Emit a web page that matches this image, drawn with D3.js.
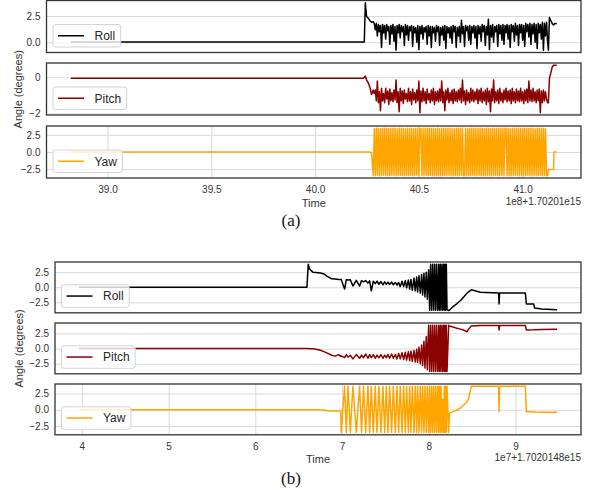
<!DOCTYPE html>
<html>
<head>
<meta charset="utf-8">
<script src="https://cdn.jsdelivr.net/npm/d3@7"></script>
<style>
  body { margin: 0; background: #fff; }
</style>
</head>
<body>
<svg id="chart" width="596" height="491"></svg>
<script>
// ---- figure (a): time in units of 1e8 (+1.70201e15) ----
var timeA = [38.823, 40.232, 40.237, 40.242, 40.248, 40.256, 40.264, 40.272, 40.280, 40.285,
  40.290, 40.295, 40.300, 40.305, 40.310, 40.315, 40.320, 40.325, 40.330, 40.335,
  40.340, 40.345, 40.350, 40.355, 40.360, 40.365, 40.370, 40.375, 40.380, 40.385,
  40.390, 40.395, 40.400, 40.405, 40.410, 40.415, 40.420, 40.425, 40.430, 40.435,
  40.440, 40.445, 40.450, 40.455, 40.460, 40.465, 40.470, 40.475, 40.480, 40.485,
  40.490, 40.495, 40.500, 40.505, 40.510, 40.515, 40.520, 40.525, 40.530, 40.535,
  40.540, 40.545, 40.550, 40.555, 40.560, 40.565, 40.570, 40.575, 40.580, 40.585,
  40.590, 40.595, 40.600, 40.605, 40.610, 40.615, 40.620, 40.625, 40.630, 40.635,
  40.640, 40.645, 40.650, 40.655, 40.660, 40.665, 40.670, 40.675, 40.680, 40.685,
  40.690, 40.695, 40.700, 40.705, 40.710, 40.715, 40.720, 40.725, 40.730, 40.735,
  40.740, 40.745, 40.750, 40.755, 40.760, 40.765, 40.770, 40.775, 40.780, 40.785,
  40.790, 40.795, 40.800, 40.805, 40.810, 40.815, 40.820, 40.825, 40.830, 40.835,
  40.840, 40.845, 40.850, 40.855, 40.860, 40.865, 40.870, 40.875, 40.880, 40.885,
  40.890, 40.895, 40.900, 40.905, 40.910, 40.915, 40.920, 40.925, 40.930, 40.935,
  40.940, 40.945, 40.950, 40.955, 40.960, 40.965, 40.970, 40.975, 40.980, 40.985,
  40.990, 40.995, 41.000, 41.005, 41.010, 41.015, 41.020, 41.025, 41.030, 41.035,
  41.040, 41.045, 41.050, 41.055, 41.060, 41.065, 41.070, 41.075, 41.080, 41.085,
  41.090, 41.095, 41.100, 41.105, 41.110, 41.115, 41.120,
  41.124, 41.129, 41.135, 41.143, 41.149, 41.151, 41.157, 41.164];

var rollA = [0.03, 0.03, 0.03, 3.75, 2.45, 2.3, 2.05, 1.9, 1.95, 1.8,
  1.2, 1.8, 0.6, 1.7, 1.0, 1.6, -0.5, 1.7, 0.9, 1.6,
  0.3, 1.7, 1.1, 1.5, -0.2, 1.6, 0.8, 1.7, 0.1, 1.5,
  -0.75, 1.6, 0.9, 1.7, 0.4, 1.6, 1.0, 1.5, -0.3, 1.7,
  0.7, 1.6, 0.2, 1.5, 1.1, 1.6, -0.4, 1.5, 0.9, 1.4,
  0.0, 1.6, -0.7, 1.5, 0.8, 1.6, 0.3, 1.4, 1.0, 1.5,
  -0.2, 1.6, 0.6, 1.5, -0.5, 1.5, 0.9, 1.4, 0.1, 1.6,
  1.0, 1.5, -0.3, 1.4, 0.7, 1.5, 0.2, 1.6, -0.6, 1.5,
  0.9, 1.4, 0.4, 1.5, -0.1, 1.6, 1.0, 1.5, -0.5, 1.4,
  0.6, 1.5, 0.0, 2.1, 0.8, 1.5, -0.4, 1.6, 1.1, 1.5,
  0.2, 1.6, -0.2, 1.5, 0.9, 1.6, 0.4, 1.5, -0.6, 1.6,
  0.8, 1.5, 0.1, 1.7, 1.0, 1.6, -0.3, 1.5, 0.7, 2.2,
  -0.7, 1.6, 0.5, 1.7, 0.0, 1.5, 1.0, 1.6, -0.4, 1.7,
  0.8, 1.6, 0.2, 1.7, -0.2, 1.6, 0.9, 1.7, 0.3, 1.6,
  -0.5, 1.7, 1.0, 1.6, 0.1, 1.8, 0.7, 1.6, -0.3, 1.7,
  0.9, 1.7, 0.2, 1.6, -0.4, 1.8, 1.0, 1.7, 0.5, 1.8,
  -0.2, 1.7, 0.8, 1.8, 0.0, 1.7, -0.6, 1.8, 0.9, 1.7,
  0.3, 1.9, -0.75, 1.8, 0.6, 1.9, 0.1,
  -0.75, 2.35, 2.1, 1.75, 1.65, 1.7, 1.8, 1.75];

var pitchA = [-0.05, -0.05, 0.0, 0.07, -0.15, -0.3, -0.55, -0.95, -0.7, -0.9,
  -0.7, -1.3, -0.2, -1.4, -0.8, -1.85, -0.6, -1.3, -0.9, -1.4,
  -0.6, -1.2, -0.75, -1.5, -0.65, -1.3, -0.85, -1.35, -0.7, -1.25,
  -0.15, -1.4, -0.8, -1.9, -0.6, -1.3, -0.75, -1.45, -0.7, -1.2,
  -0.9, -1.35, -0.6, -1.3, -0.8, -1.5, -0.65, -1.25, -0.85, -1.4,
  -0.7, -1.3, -0.2, -1.95, -0.75, -1.35, -0.6, -1.3, -0.8, -1.45,
  -0.65, -1.25, -0.9, -1.4, -0.7, -1.3, -0.6, -1.5, -0.8, -1.3,
  -0.75, -1.35, -0.65, -1.3, -0.2, -1.4, -0.8, -1.85, -0.7, -1.25,
  -0.6, -1.4, -0.85, -1.3, -0.7, -1.45, -0.65, -1.3, -0.8, -1.35,
  -0.7, -1.25, -0.6, -1.4, -0.15, -1.3, -0.75, -1.5, -0.7, -1.3,
  -0.85, -1.4, -0.6, -1.3, -0.7, -1.35, -0.8, -1.25, -0.65, -1.45,
  -0.7, -1.3, -0.6, -1.4, -0.8, -1.3, -0.7, -1.5, -0.6, -1.35,
  -0.75, -1.9, -0.65, -1.3, -0.15, -1.4, -0.8, -1.3, -0.7, -1.45,
  -0.6, -1.3, -0.85, -1.4, -0.7, -1.25, -0.6, -1.35, -0.75, -1.3,
  -0.7, -1.45, -0.6, -1.3, -0.8, -1.4, -0.65, -1.3, -0.75, -1.35,
  -0.6, -1.3, -0.8, -1.45, -0.7, -1.3, -0.65, -1.4, -0.2, -1.3,
  -0.7, -1.35, -0.6, -1.3, -0.8, -1.4, -0.7, -1.3, -0.65, -1.95,
  -0.75, -1.4, -0.7, -1.3, -0.8, -1.2, -1.4,
  -1.4, -0.06, 0.22, 0.59, 0.66, 0.66, 0.66, 0.66];

var yawA = [0, 0, 0, 0, 0, 0, 0, -0.15, -3.45, 3.4,
  -3.45, 3.45, -3.4, 3.45, -3.45, 3.4, -3.45, 3.45, -3.4, 3.45,
  -3.45, 3.45, -3.45, 3.4, -3.45, 3.45, -3.4, 3.45, -3.45, 3.45,
  -3.45, 3.4, -3.45, 3.45, -3.4, 3.45, -3.45, 3.45, -3.45, 3.4,
  -3.45, 3.45, -3.45, 3.45, -3.4, 3.45, -3.45, 3.4, -3.45, 3.45,
  -3.4, 3.45, -3.45, 3.45, 3.4, -3.45, 3.45, -3.45, 3.45, -3.4,
  3.45, -3.45, 3.45, -3.4, 3.45, -3.45, 3.45, -3.45, 3.4, -3.45,
  3.45, -3.45, 3.4, -3.45, 3.45, -3.45, 3.45, -3.4, 3.45, -3.45,
  3.45, -3.4, 3.45, -3.45, 3.45, -3.45, 3.4, -3.45, 3.45, -3.45,
  3.45, -3.45, 3.45, -3.4, 3.45, -3.45, -3.45, 3.45, -3.45, 3.4,
  -3.45, 3.45, -3.45, 3.45, -3.4, 3.45, -3.45, 3.45, -3.45, 3.45,
  -3.4, 3.45, -3.45, 3.45, -3.45, 3.4, -3.45, 3.45, -3.45, 3.45,
  -3.45, 3.4, -3.45, 3.45, -3.45, 3.45, -3.4, 3.45, -3.45, 3.45,
  -3.45, 3.45, -3.4, 3.45, -3.45, 3.45, 3.45, -3.45, 3.45, -3.45,
  3.4, -3.45, 3.45, -3.45, 3.45, -3.4, 3.45, -3.45, 3.45, -3.45,
  3.45, -3.45, 3.4, -3.45, 3.45, -3.45, 3.45, -3.4, 3.45, -3.45,
  3.45, -3.45, 3.45, -3.45, 3.4, -3.45, 3.45, -3.45, 3.45, -3.4,
  3.45, -3.45, 3.45, -3.45, 3.4, -3.45, -3.45,
  -2.55, -2.55, -2.55, -2.55, -2.55, 0, 0, 0];

// ---- figure (b): time in units of 1e7 (+1.7020148e15) ----
var timeB = [3.966, 6.595, 6.610, 6.625, 6.664, 6.700, 6.750, 6.790, 6.830, 6.880, 6.920, 6.960, 6.985,
  6.990, 7.029, 7.049, 7.068, 7.095, 7.125, 7.164, 7.202, 7.225, 7.248,
  7.272, 7.298, 7.318, 7.337, 7.360, 7.383, 7.402, 7.425, 7.448, 7.471,
  7.491, 7.510, 7.529, 7.548, 7.571, 7.591, 7.614, 7.633, 7.652, 7.671,
  7.691, 7.710, 7.729, 7.744, 7.764, 7.779, 7.794, 7.810, 7.829, 7.844,
  7.860, 7.871, 7.887, 7.902, 7.917, 7.929, 7.944, 7.956, 7.971, 7.983,
  7.998, 8.010, 8.021, 8.033, 8.044, 8.056, 8.067, 8.079, 8.090, 8.102,
  8.114, 8.121, 8.133, 8.140, 8.152, 8.160, 8.171, 8.179, 8.187, 8.194,
  8.202, 8.210, 8.229,
  8.237, 8.280, 8.325, 8.366, 8.402, 8.440, 8.459, 8.490, 8.594, 8.805,
  8.810, 8.816, 9.113, 9.125, 9.209, 9.220, 9.300, 9.479];

var rollB = [0.02, 0.02, 3.8, 3.0, 2.5, 2.45, 2.35, 2.2, 1.8, 1.4, 1.35, 1.3, 1.3,
  1.3, -0.3, 1.25, 1.2, 1.25, 0.2, 1.15, 0.2, 1.1, 0.9,
  1.1, 0.7, 1.05, -0.6, 1.0, 0.6, 1.0, 0.5, 0.95, 0.4,
  0.9, 0.5, 0.85, 0.45, 0.85, 0.4, 0.8, 0.35, 0.8, 0.1,
  1.0, 0.1, 1.1, -0.1, 1.2, -0.3, 1.3, -0.5, 1.5, -0.6,
  1.7, -0.8, 1.9, -1.0, 2.1, -1.3, 2.3, -1.6, 2.5, -2.0,
  2.9, -3.8, 3.8, -3.8, 3.8, -3.8, 3.8, -3.8, 3.8, -3.8,
  3.8, -3.8, 3.8, -3.8, 3.8, -3.8, 3.8, -3.8, 3.8, -3.8,
  3.8, -3.7, -3.85,
  -3.8, -3.2, -2.7, -2.2, -1.6, -1.0, -0.75, -0.43, -0.83, -0.94,
  -2.77, -0.94, -0.94, -2.77, -2.77, -3.44, -3.6, -3.72];

var pitchB = [0.0, 0.0, 0.0, -0.02, -0.05, -0.1, -0.28, -0.5, -0.75, -1.1, -1.25, -1.0, -1.3,
  -1.2, -1.5, -1.0, -1.4, -1.1, -1.7, -1.0, -1.6, -1.1, -1.5,
  -0.9, -1.6, -1.0, -1.5, -1.0, -1.6, -1.1, -1.5, -1.0, -1.6,
  -1.1, -1.5, -1.0, -1.6, -0.9, -1.6, -1.0, -1.7, -0.8, -1.7,
  -0.7, -1.8, -0.6, -1.9, -0.5, -2.0, -0.4, -2.1, -0.3, -2.2,
  -0.1, -2.3, 0.2, -2.5, 0.6, -2.8, 1.2, -3.2, 2.0, -3.5,
  3.83, -3.78, 3.83, -3.78, 3.83, -3.78, 3.83, -3.78, 3.83, -3.78,
  3.83, -3.78, 3.83, -3.78, 3.83, -3.78, 3.83, -3.78, 3.83, -3.78,
  3.83, -3.78, 3.83,
  3.72, 3.55, 3.33, 3.2, 3.05, 2.77, 3.2, 3.7, 3.8, 3.8,
  3.05, 3.8, 3.8, 3.05, 3.08, 3.1, 3.13, 3.17];

var yawB = [0, 0, 0, 0, 0, 0, 0, -0.05, -0.15, -0.2, -0.2, -0.2, -0.2,
  -3.5, 3.6, -3.5, 3.6, -3.5, 3.6, -3.5, 3.6, -3.5, 3.6,
  -3.5, 3.6, -3.5, 3.6, -3.5, 3.6, -3.5, 3.6, -3.5, 3.6,
  -3.5, 3.6, -3.5, 3.6, -3.5, 3.6, -3.5, 3.6, -3.5, 3.6,
  -3.5, 3.6, -3.5, 3.6, -3.5, 3.6, -3.5, 3.6, -3.5, 3.6,
  -3.5, 3.6, -3.5, 3.6, -3.5, 3.6, -3.5, 3.6, -3.5, 3.6,
  -3.5, 3.6, -3.5, 3.6, -3.5, 3.6, -3.5, 3.6, -3.5, 3.6,
  -3.5, 3.6, -3.5, 3.6, -3.5, 1.6, -3.5, 3.6, -3.5, 3.6,
  -3.5, 3.6, -3.5,
  -0.55, -0.3, -0.05, 0.3, 0.72, 1.2, 1.74, 3.6, 3.6, 3.6,
  -0.3, 3.6, 3.6, -0.3, -0.3, -0.35, -0.38, -0.4];

var seriesNames = ["Roll", "Pitch", "Yaw"];
var seriesColors = ["#000000", "#8b0000", "#ffa500"];
var xTicksA = [39.0, 39.5, 40.0, 40.5, 41.0];
var xTicksB = [4, 5, 6, 7, 8, 9];
var yTicksA = [[0, 2.5], [-2, 0], [-2.5, 0, 2.5]];
var yTicksB = [[-2.5, 0, 2.5], [-2.5, 0, 2.5], [-2.5, 0, 2.5]];
var offsetTextA = "1e8+1.70201e15";
var offsetTextB = "1e7+1.7020148e15";
var xLabel = "Time";
var yLabel = "Angle (degrees)";
var captions = ["(a)", "(b)"];

var SANS = "'Liberation Sans', Arial, sans-serif";
var SERIF = "'Liberation Serif', 'Times New Roman', serif";
var gridColor = "#d9d9d9";
var textColor = "#333";
var frameColor = "#333";

var svg = d3.select("#chart");

// matplotlib style autoscale: 5% margin both sides
function padded(ext) {
  var m = (ext[1] - ext[0]) * 0.05;
  return [ext[0] - m, ext[1] + m];
}

function drawFigure(fig) {
  [fig.roll, fig.pitch, fig.yaw].forEach(function(v, k) {
    if (v.length !== fig.time.length) throw new Error(fig.id + " series " + k + " length " + v.length + " vs " + fig.time.length);
  });

  var x = d3.scaleLinear().domain(padded(d3.extent(fig.time))).range([fig.left, fig.right]);
  var width = fig.right - fig.left;
  var series = [fig.roll, fig.pitch, fig.yaw];

  series.forEach(function(values, k) {
    var top = fig.tops[k], bottom = top + fig.height;
    var y = d3.scaleLinear().domain(padded(d3.extent(values))).range([bottom, top]);
    var g = svg.append("g");
    var clipId = "clip-" + fig.id + k;

    g.append("clipPath").attr("id", clipId).append("rect")
      .attr("x", fig.left).attr("y", top).attr("width", width).attr("height", fig.height);

    // y grid + tick labels
    g.append("g")
      .attr("transform", "translate(" + fig.left + ",0)")
      .call(d3.axisLeft(y).tickValues(fig.yTicks[k]).tickFormat(d3.format(fig.yFormats[k]))
        .tickSize(-width).tickPadding(6))
      .call(function(a) {
        a.select(".domain").remove();
        a.attr("font-family", SANS).attr("font-size", 10);
        a.selectAll(".tick line").attr("stroke", gridColor).attr("stroke-width", 1);
        a.selectAll(".tick text").attr("fill", textColor);
      });

    // x grid only on the bottom panel, with the tick labels
    if (k === 2) {
      g.append("g")
        .attr("transform", "translate(0," + bottom + ")")
        .call(d3.axisBottom(x).tickValues(fig.xTicks).tickFormat(d3.format(fig.xFormat))
          .tickSize(-fig.height).tickPadding(8.3))
        .call(function(a) {
          a.select(".domain").remove();
          a.attr("font-family", SANS).attr("font-size", 10);
          a.selectAll(".tick line").attr("stroke", gridColor).attr("stroke-width", 1);
          a.selectAll(".tick text").attr("fill", textColor);
        });
    }

    g.append("path")
      .datum(values)
      .attr("clip-path", "url(#" + clipId + ")")
      .attr("fill", "none")
      .attr("stroke", seriesColors[k])
      .attr("stroke-width", 1.5)
      .attr("stroke-linejoin", "round")
      .attr("d", d3.line().x(function(d, i) { return x(fig.time[i]); }).y(function(d) { return y(d); }));

    // legend, lower left
    var lh = 22.5;
    var lg = g.append("g").attr("transform", "translate(" + (fig.left + 6.5) + "," + (bottom - 5.5 - lh) + ")");
    var box = lg.append("rect").attr("height", lh).attr("rx", 2.5)
      .attr("fill", "#fff").attr("fill-opacity", 0.8)
      .attr("stroke", "#d4d4d4").attr("stroke-width", 1);
    lg.append("line").attr("x1", 5).attr("x2", 31).attr("y1", lh / 2).attr("y2", lh / 2)
      .attr("stroke", seriesColors[k]).attr("stroke-width", 1.5);
    var lt = lg.append("text").attr("x", 41.5).attr("y", lh / 2).attr("dy", "0.36em")
      .attr("font-family", SANS).attr("font-size", 12).attr("fill", "#262626")
      .text(seriesNames[k]);
    box.attr("width", 41.5 + lt.node().getComputedTextLength() + 5.5);

    // frame
    g.append("rect").attr("x", fig.left).attr("y", top).attr("width", width).attr("height", fig.height)
      .attr("fill", "none").attr("stroke", frameColor).attr("stroke-width", 1.3);
  });

  var last = fig.tops[2] + fig.height;
  svg.append("text").attr("x", (fig.left + fig.right) / 2).attr("y", last + 28.5)
    .attr("text-anchor", "middle").attr("font-family", SANS).attr("font-size", 11).attr("fill", textColor)
    .text(xLabel);
  svg.append("text").attr("x", fig.right).attr("y", last + 26.5)
    .attr("text-anchor", "end").attr("font-family", SANS).attr("font-size", 10).attr("fill", textColor)
    .text(fig.offsetText);
  svg.append("text")
    .attr("transform", "translate(" + fig.yLabelX + "," + ((fig.tops[0] + last) / 2) + ") rotate(-90)")
    .attr("text-anchor", "middle").attr("dy", "0.36em")
    .attr("font-family", SANS).attr("font-size", 11).attr("fill", textColor)
    .text(yLabel);
  svg.append("text").attr("x", 291).attr("y", fig.captionY)
    .attr("text-anchor", "middle").attr("font-family", SERIF).attr("font-size", 17).attr("fill", "#111")
    .text(fig.caption);
}

drawFigure({
  id: "a", time: timeA, roll: rollA, pitch: pitchA, yaw: yawA,
  left: 46.5, right: 581, tops: [0.5, 63, 126], height: 52,
  xTicks: xTicksA, xFormat: ".1f", yTicks: yTicksA, yFormats: [".1f", ".0f", ".1f"],
  offsetText: offsetTextA, yLabelX: 18, caption: captions[0], captionY: 225.5
});

drawFigure({
  id: "b", time: timeB, roll: rollB, pitch: pitchB, yaw: yawB,
  left: 55, right: 581, tops: [262, 323, 384], height: 50.8,
  xTicks: xTicksB, xFormat: "d", yTicks: yTicksB, yFormats: [".1f", ".1f", ".1f"],
  offsetText: offsetTextB, yLabelX: 19, caption: captions[1], captionY: 483.5
});
</script>
</body>
</html>
